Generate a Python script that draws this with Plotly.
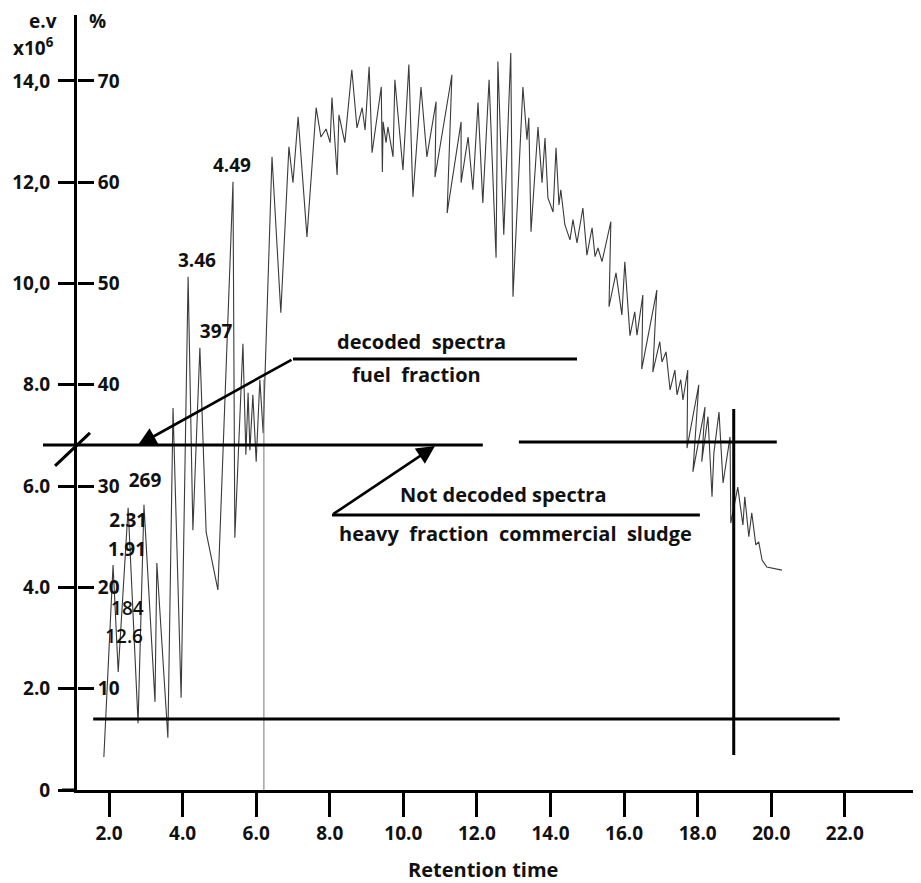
import plotly.graph_objects as go

# ---------------- data ----------------
retention_time = [1.86, 2.11, 2.25, 2.52, 2.79, 2.95, 3.25, 3.30, 3.60, 3.74,
                  3.96, 4.15, 4.28, 4.47, 4.64, 4.96, 5.37, 5.42, 5.64, 5.72,
                  5.78, 5.83, 5.91, 6.00, 6.10, 6.19, 6.43, 6.67, 6.89, 7.00,
                  7.14, 7.38, 7.63, 7.76, 7.90, 8.01, 8.06, 8.20, 8.25, 8.41,
                  8.60, 8.74, 8.88, 8.96, 9.07, 9.15, 9.40, 9.43, 9.45, 9.53,
                  9.58, 9.72, 9.77, 9.99, 10.15, 10.26, 10.48, 10.64, 10.89, 10.86,
                  11.32, 11.19, 11.57, 11.57, 11.76, 11.89, 12.03, 12.16, 12.33, 12.52,
                  12.57, 12.73, 12.92, 12.98, 13.25, 13.36, 13.41, 13.47, 13.66, 13.77,
                  13.85, 13.93, 14.07, 14.15, 14.23, 14.28, 14.39, 14.53, 14.61, 14.72,
                  14.88, 14.99, 15.13, 15.21, 15.29, 15.40, 15.64, 15.59, 15.78, 15.94,
                  16.02, 16.16, 16.29, 16.35, 16.51, 16.48, 16.89, 16.78, 16.97, 17.03,
                  17.14, 17.25, 17.38, 17.44, 17.54, 17.60, 17.73, 17.71, 18.03, 17.87,
                  18.20, 18.11, 18.28, 18.39, 18.44, 18.58, 18.69, 18.88, 18.90, 19.09,
                  19.23, 19.28, 19.39, 19.47, 19.58, 19.66, 19.75, 19.88, 20.29]
signal_ev = [0.65, 4.44, 2.33, 5.57, 1.32, 5.63, 1.74, 4.48, 1.03, 7.54,
             1.82, 10.13, 5.13, 8.73, 5.09, 3.95, 12.01, 4.98, 8.81, 6.62,
             7.84, 6.71, 7.80, 6.48, 8.10, 7.05, 12.50, 9.42, 12.70, 11.99,
             13.29, 10.92, 13.47, 12.89, 13.05, 12.78, 13.67, 12.14, 13.33, 12.78,
             14.22, 13.07, 13.47, 13.03, 14.28, 12.58, 13.88, 12.20, 13.19, 12.78,
             13.09, 12.50, 14.02, 12.24, 14.32, 11.71, 13.88, 12.50, 13.59, 12.10,
             14.12, 11.39, 13.19, 11.99, 12.89, 11.85, 13.57, 11.59, 14.02, 10.51,
             14.38, 10.96, 14.55, 9.74, 13.88, 12.84, 13.27, 11.02, 13.09, 11.99,
             12.87, 11.69, 11.41, 12.68, 11.55, 11.85, 11.16, 10.86, 11.26, 10.80,
             11.49, 10.56, 11.10, 10.53, 10.70, 10.43, 11.22, 9.54, 10.21, 9.38,
             10.43, 8.97, 9.44, 8.98, 9.77, 8.31, 9.87, 8.25, 8.85, 8.45,
             8.65, 7.90, 8.29, 7.80, 8.10, 7.70, 8.29, 6.75, 8.00, 6.28,
             7.56, 6.48, 7.37, 5.79, 6.65, 7.46, 6.06, 6.97, 5.27, 5.98,
             5.23, 5.79, 5.00, 5.47, 4.84, 4.90, 4.54, 4.40, 4.34]

x_ticks = [2, 4, 6, 8, 10, 12, 14, 16, 18, 20, 22]
x_tick_labels = ["2.0", "4.0", "6.0", "8.0", "10.0", "12.0", "14.0", "16.0", "18.0", "20.0", "22.0"]
ev_ticks = [0, 2, 4, 6, 8, 10, 12, 14]
ev_tick_labels = ["0", "2.0", "4.0", "6.0", "8.0", "10,0", "12,0", "14,0"]
pct_ticks = [10, 20, 30, 40, 50, 60, 70]
pct_tick_labels = ["10", "20", "30", "40", "50", "60", "70"]

peak_labels = ["4.49", "3.46", "397", "269", "2.31", "1.91", "184", "12.6"]
peak_label_x = [5.34, 4.39, 4.91, 2.98, 2.52, 2.49, 2.50, 2.41]
peak_label_y = [12.30, 10.41, 9.02, 6.08, 5.29, 4.72, 3.54, 3.00]
peak_label_weight = ["bold", "bold", "bold", "bold", "bold", "bold", 600, 600]

marker_time = 6.21          # thin vertical line
marker_top = 8.1
split_level = 6.81          # fuel / heavy fraction boundary (left part)
split_level_right = 6.87
split_left_end = 12.16
split_right_start = 13.14
split_right_end = 20.15
base_level = 1.40
base_start = 1.57
base_end = 21.86
cut_time = 18.98
cut_low, cut_high = 0.69, 7.52

fuel_text = ["decoded\u00a0\u00a0spectra", "fuel\u00a0\u00a0fraction"]
fuel_text_x = [10.48, 10.37]
fuel_text_y = [8.85, 8.20]
fuel_leader = dict(x0=7.0, x1=14.72, y=8.51, tip_x=2.79, tip_y=6.81)

heavy_text = ["Not decoded spectra", "heavy\u00a0\u00a0fraction\u00a0\u00a0commercial\u00a0\u00a0sludge"]
heavy_text_x = [12.71, 13.06]
heavy_text_y = [5.83, 5.06]
heavy_leader = dict(x0=8.06, x1=18.06, y=5.43, tip_x=10.86, tip_y=6.79)

# ---------------- figure ----------------
FONT = "Open Sans"
INK = "#111111"
fig = go.Figure()

fig.add_trace(go.Scatter(x=retention_time, y=signal_ev, mode="lines",
                         line=dict(color="#3a3a3a", width=1.1), showlegend=False,
                         hoverinfo="skip"))
fig.add_trace(go.Scatter(x=[marker_time, marker_time], y=[0, marker_top], mode="lines",
                         line=dict(color="#777777", width=1), showlegend=False))
fig.add_trace(go.Scatter(x=[None], y=[None], yaxis="y2", showlegend=False))

for txt, px, py, w in zip(peak_labels, peak_label_x, peak_label_y, peak_label_weight):
    fig.add_trace(go.Scatter(x=[px], y=[py], mode="text", text=[txt],
                             textfont=dict(family=FONT, size=19, color=INK, weight=w),
                             showlegend=False, cliponaxis=False))

LW = 3
shapes = []
def hline_data(x0, x1, y):
    shapes.append(dict(type="line", xref="x", yref="y", x0=x0, x1=x1, y0=y, y1=y,
                       line=dict(color="black", width=LW)))

x_min, x_max = 1.13, 24.07
shapes.append(dict(type="line", xref="paper", yref="y", x0=-0.0403, x1=0.0,
                   y0=split_level, y1=split_level, line=dict(color="black", width=LW)))
hline_data(x_min, split_left_end, split_level)
hline_data(split_right_start, split_right_end, split_level_right)
hline_data(base_start, base_end, base_level)
shapes.append(dict(type="line", xref="x", yref="y", x0=cut_time, x1=cut_time,
                   y0=cut_low, y1=cut_high, line=dict(color="black", width=LW)))
shapes.append(dict(type="line", xref="paper", yref="y", x0=-0.026, x1=0.0154,
                   y0=6.40, y1=7.05, line=dict(color="black", width=LW)))
shapes.append(dict(type="line", xref="paper", yref="y", x0=-0.0178, x1=0.0,
                   y0=0, y1=0, line=dict(color="black", width=LW)))
hline_data(fuel_leader["x0"], fuel_leader["x1"], fuel_leader["y"])
hline_data(heavy_leader["x0"], heavy_leader["x1"], heavy_leader["y"])

annotations = []
for ld in (fuel_leader, heavy_leader):
    annotations.append(dict(x=ld["tip_x"], y=ld["tip_y"], ax=ld["x0"], ay=ld["y"],
                            xref="x", yref="y", axref="x", ayref="y", text="",
                            showarrow=True, arrowhead=2, arrowsize=1.4, arrowwidth=2.6,
                            arrowcolor="black"))
for txt, tx, ty in zip(fuel_text + heavy_text, fuel_text_x + heavy_text_x, fuel_text_y + heavy_text_y):
    annotations.append(dict(x=tx, y=ty, xref="x", yref="y", text=f"<b>{txt}</b>",
                            showarrow=False, xanchor="center", yanchor="middle",
                            font=dict(family=FONT, size=20, color=INK)))

def paper_text(x, y, t, size=19):
    return dict(x=x, y=y, xref="paper", yref="paper", text=t, showarrow=False,
                xanchor="center", yanchor="middle", font=dict(family=FONT, size=size, color=INK))

annotations += [
    paper_text(-0.0403, 0.9923, "<b>e.v</b>"),
    paper_text(0.0237, 0.9923, "<b>%</b>"),
    paper_text(-0.051, 0.9587, "<b>x10<sup>6</sup></b>"),
    paper_text(0.481, -0.1025, "<b>Retention time</b>", 20),
]

tickfont = dict(family=FONT, size=19, color=INK, weight="bold")
# figure is 8px smaller than the window because the page body has an 8px margin
fig.update_layout(
    width=913, height=875,
    margin=dict(l=69, r=0, t=7, b=93, pad=0),
    paper_bgcolor="white", plot_bgcolor="white",
    shapes=shapes, annotations=annotations,
    xaxis=dict(range=[x_min, x_max], tickvals=x_ticks, ticktext=x_tick_labels,
               showline=True, linewidth=LW, linecolor="black", ticks="outside",
               ticklen=24, tickwidth=LW, tickcolor="black", showgrid=False,
               zeroline=False, tickfont=tickfont),
    yaxis=dict(range=[0, 15.30], tickvals=ev_ticks, ticktext=ev_tick_labels,
               showline=True, linewidth=LW, linecolor="black", ticks="outside",
               ticklen=16, tickwidth=LW, tickcolor="black", showgrid=False,
               zeroline=False, tickfont=tickfont, ticklabelstandoff=4),
    yaxis2=dict(range=[0, 76.5], overlaying="y", anchor="free", position=0, side="right",
                tickvals=pct_ticks, ticktext=pct_tick_labels, showline=False,
                ticks="outside", ticklen=16, tickwidth=LW, tickcolor="black",
                showgrid=False, zeroline=False, tickfont=tickfont),
)

fig.write_html("out.html")
